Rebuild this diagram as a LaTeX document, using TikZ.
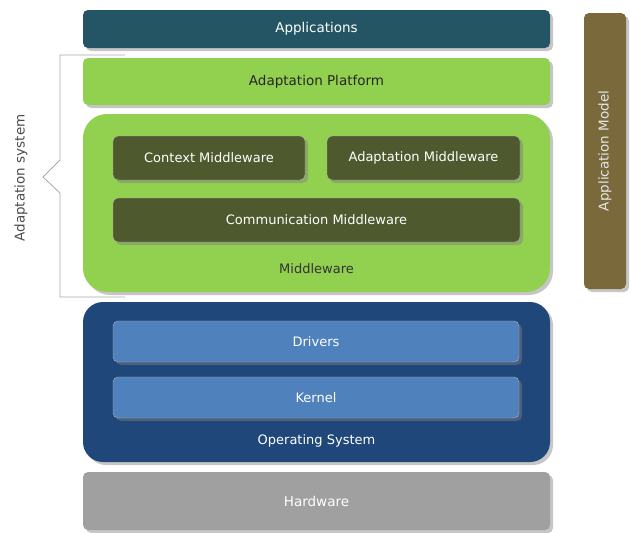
\documentclass[tikz,border=0pt]{standalone}
\usepackage{fontspec}
\setmainfont{DejaVu Sans}
\usetikzlibrary{shadows}

\definecolor{appteal}{HTML}{245565}
\definecolor{lightgreen}{HTML}{92D050}
\definecolor{darkolive}{HTML}{4E5A2E}
\definecolor{osblue}{HTML}{1F477A}
\definecolor{drvblue}{HTML}{4F81BD}
\definecolor{hwgray}{HTML}{A0A0A0}
\definecolor{modelbrown}{HTML}{7A6A3B}
\definecolor{bracketgray}{HTML}{A8A8A8}

\tikzset{
  layer/.style={rounded corners=5pt, inner sep=0pt, font=\fontsize{13.5}{16}\selectfont,
    drop shadow={opacity=0.45, shadow xshift=3pt, shadow yshift=-3pt}},
  sublayer/.style={layer, draw=white!70!black, line width=0.4pt, font=\fontsize{13}{15}\selectfont}
}

\begin{document}
\begin{tikzpicture}[x=1pt, y=-1pt]
  \useasboundingbox (0,0) rectangle (630,533);

  % top layers
  \node[layer, fill=appteal, text=white, minimum width=467pt, minimum height=38pt] (apps) at (316.5,29) {Applications};
  \node[layer, fill=lightgreen, text=black!85, minimum width=467pt, minimum height=47pt] (platform) at (316.5,81.5) {Adaptation Platform};

  % middleware
  \node[layer, fill=lightgreen, rounded corners=24pt, minimum width=467pt, minimum height=178pt] (mw) at (316.5,203) {};
  \node[sublayer, fill=darkolive, text=white, minimum width=192pt, minimum height=44pt] (context) at (209,158) {Context Middleware};
  \node[sublayer, fill=darkolive, text=white, minimum width=193pt, minimum height=44pt] (adapt) at (423.5,158) {Adaptation Middleware};
  \node[sublayer, fill=darkolive, text=white, minimum width=407pt, minimum height=44pt] (comm) at (316.5,220) {Communication Middleware};
  \node[text=black!80, font=\fontsize{13}{15}\selectfont] (mwlabel) at (316.5,269) {Middleware};

  % operating system
  \node[layer, fill=osblue, rounded corners=20pt, minimum width=467pt, minimum height=160pt] (os) at (316.5,382) {};
  \node[sublayer, fill=drvblue, text=white, minimum width=406pt, minimum height=41pt] (drivers) at (316,341.5) {Drivers};
  \node[sublayer, fill=drvblue, text=white, minimum width=406pt, minimum height=41pt] (kernel) at (316,397.5) {Kernel};
  \node[text=white, font=\fontsize{13}{15}\selectfont] (oslabel) at (316.5,441) {Operating System};

  % hardware
  \node[layer, fill=hwgray, text=white, minimum width=467pt, minimum height=58pt] (hw) at (316.5,501) {Hardware};

  % application model
  \node[layer, fill=modelbrown, text=white!90!black, minimum width=276pt, minimum height=42pt, rotate=90] (model) at (605,151) {Application Model};

  % bracket for the adaptation system
  \coordinate (btop) at (125,55);
  \coordinate (bbot) at (125,297);
  \draw[bracketgray, line width=0.8pt] (btop) -- (60,55) -- (60,160) -- (43,177) -- (60,193) -- (60,297) -- (bbot);
  \node[text=black!70, rotate=90, font=\fontsize{13.5}{16}\selectfont] (adsys) at (21,178) {Adaptation system};
\end{tikzpicture}
\end{document}
